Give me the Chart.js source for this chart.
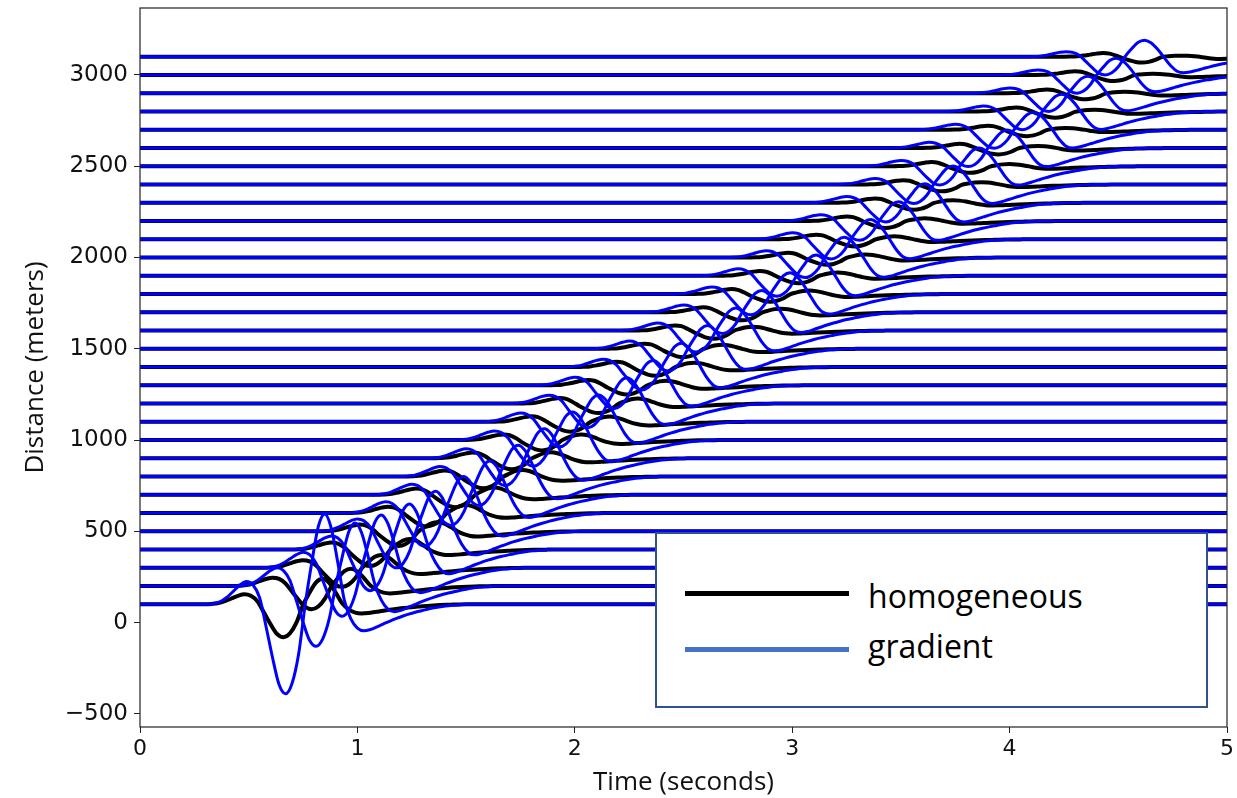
<!DOCTYPE html>
<html>
<head>
<meta charset="utf-8">
<script src="https://cdn.jsdelivr.net/npm/chart.js@4.4.1/dist/chart.umd.min.js"></script>
<style>
  html, body { margin: 0; padding: 0; background: #fff; }
  #wrap { position: relative; width: 1237px; height: 798px; }
  #legend {
    position: absolute; left: 655px; top: 532px; width: 549px; height: 172px;
    border: 2px solid #2f528f; background: #fff;
    font-family: "Open Sans", "DejaVu Sans", sans-serif; font-size: 32px; color: #000;
  }
  #legend .sw { position: absolute; left: 28px; width: 164px; height: 5px; }
  #legend .lb { position: absolute; left: 211px; line-height: 1; white-space: nowrap; }
</style>
</head>
<body>
<div id="wrap">
  <canvas id="c" width="1237" height="798"></canvas>
  <div id="legend">
    <div class="sw" style="top:57px;background:#000"></div>
    <div class="lb" style="top:46px">homogeneous</div>
    <div class="sw" style="top:113px;background:#4472c4"></div>
    <div class="lb" style="top:96px">gradient</div>
  </div>
</div>
<script>
/* Seismogram-style plot: one trace per receiver distance, homogeneous vs gradient model.
   For every trace the main-trough time and the size of each lobe (pre-bump, main trough,
   following peak, slow negative tail) are read off the reference, in metres of offset.
   Lobe shapes below are the 100 m trace's lobes, each normalised to 1. */

var OFFSETS = [100, 200, 300, 400, 500, 600, 700, 800, 900, 1000, 1100, 1200, 1300, 1400, 1500, 1600,
               1700, 1800, 1900, 2000, 2100, 2200, 2300, 2400, 2500, 2600, 2700, 2800, 2900, 3000, 3100];

// homogeneous (black)
var HOMO_T      = [0.66, 0.79, 0.93, 1.06, 1.19, 1.32, 1.45, 1.58, 1.71, 1.85, 1.98, 2.11, 2.24, 2.37, 2.50, 2.64,
                   2.77, 2.90, 3.03, 3.16, 3.29, 3.43, 3.56, 3.69, 3.82, 3.95, 4.08, 4.21, 4.35, 4.48, 4.61];
var HOMO_PRE    = [55, 46, 42, 39, 37, 35, 34, 33, 32, 31, 30, 30, 29, 29, 28, 28,
                   27, 27, 26, 26, 25, 25, 24, 24, 23, 23, 22, 22, 21, 21, 20];
var HOMO_TROUGH = [180, 127, 104, 90, 80, 73, 68, 64, 60, 57, 54, 52, 50, 48, 46, 45,
                   44, 42, 41, 40, 39, 38, 38, 37, 36, 35, 35, 34, 33, 33, 32];
var HOMO_POST   = [140, 95, 70, 58, 50, 44, 40, 36, 33, 31, 29, 27, 25, 24, 22, 21,
                   20, 19, 18, 17, 16, 15, 14, 13, 12, 11, 10, 9, 8, 7, 6];
var HOMO_TAIL   = [50, 40, 34, 30, 28, 26, 24, 23, 22, 21, 20, 19, 19, 18, 18, 17,
                   17, 16, 16, 16, 15, 15, 15, 14, 14, 14, 13, 13, 13, 12, 12];

// gradient (blue)
var GRAD_T      = [0.67, 0.81, 0.93, 1.06, 1.18, 1.31, 1.43, 1.56, 1.68, 1.81, 1.93, 2.06, 2.18, 2.31, 2.43, 2.56,
                   2.68, 2.81, 2.93, 3.06, 3.18, 3.31, 3.43, 3.56, 3.68, 3.81, 3.93, 4.06, 4.18, 4.31, 4.44];
var GRAD_PRE    = [125, 100, 85, 75, 68, 62, 58, 55, 52, 50, 48, 46, 44, 43, 42, 41,
                   40, 39, 38, 37, 36, 35, 34, 33, 32, 31, 30, 30, 29, 28, 28];
var GRAD_TROUGH = [490, 330, 265, 225, 200, 182, 168, 158, 150, 143, 137, 132, 128, 124, 121, 118,
                   116, 114, 112, 110, 108, 106, 105, 104, 103, 102, 101, 100, 100, 100, 100];
var GRAD_POST   = [495, 345, 290, 250, 220, 200, 185, 172, 162, 154, 147, 141, 136, 131, 127, 123,
                   120, 117, 114, 111, 108, 106, 104, 102, 100, 98, 96, 95, 93, 92, 91];
var GRAD_TAIL   = [145, 140, 136, 132, 129, 126, 124, 122, 120, 118, 117, 116, 115, 114, 113, 112,
                   111, 110, 109, 108, 107, 106, 105, 104, 103, 102, 100, 98, 96, 92, 88];

// lobe shapes on a common time grid (s, relative to the main trough)
var TAU       = [-0.36, -0.33, -0.30, -0.27, -0.24, -0.21, -0.18, -0.15, -0.12, -0.09, -0.06, -0.03, 0.00,
                 0.03, 0.06, 0.09, 0.12, 0.15, 0.18, 0.21, 0.24, 0.27, 0.30, 0.33, 0.36, 0.39, 0.42,
                 0.45, 0.48, 0.51, 0.54, 0.57, 0.60, 0.63, 0.66, 0.69, 0.72, 0.75, 0.78, 0.81, 0.84];
var LOBE_PRE  = [0, 0.04, 0.12, 0.31, 0.58, 0.85, 1.00, 0.85, 0.30, 0, 0, 0, 0,
                 0, 0, 0, 0, 0, 0, 0, 0, 0, 0, 0, 0, 0, 0,
                 0, 0, 0, 0, 0, 0, 0, 0, 0, 0, 0, 0, 0, 0];
var LOBE_MAIN = [0, 0, 0, 0, 0, 0, 0, 0, 0, -0.25, -0.60, -0.90, -1.00,
                 -0.88, -0.55, -0.08, 0, 0, 0, 0, 0, 0, 0, 0, 0, 0, 0,
                 0, 0, 0, 0, 0, 0, 0, 0, 0, 0, 0, 0, 0, 0];
var LOBE_POST = [0, 0, 0, 0, 0, 0, 0, 0, 0, 0, 0, 0, 0,
                 0, 0, 0.08, 0.46, 0.86, 1.00, 0.84, 0.46, 0.08, 0, 0, 0, 0, 0,
                 0, 0, 0, 0, 0, 0, 0, 0, 0, 0, 0, 0, 0, 0];
var LOBE_TAIL = [0, 0, 0, 0, 0, 0, 0, 0, 0, 0, 0, 0, 0,
                 0, 0, 0, 0, 0, 0, 0, 0, -0.12, -0.55, -0.90, -1.00, -0.95, -0.85,
                 -0.74, -0.63, -0.53, -0.44, -0.36, -0.29, -0.23, -0.17, -0.12, -0.08, -0.05, -0.03, -0.01, 0];

var X_TICKS = [0, 1, 2, 3, 4, 5];
var Y_TICKS = [-500, 0, 500, 1000, 1500, 2000, 2500, 3000];

var X_MIN = 0, X_MAX = 5, Y_MIN = -572, Y_MAX = 3367;
var Y_TICK_FONT = { family: "'DejaVu Sans', sans-serif", size: 23 };
var X_TICK_FONT = { family: "'DejaVu Sans', sans-serif", size: 22 };
var TITLE_FONT = { family: "'Open Sans', 'DejaVu Sans', sans-serif", size: 26 };

function tracePoints(base, t0, pre, trough, post, tail) {
  var pts = [{ x: X_MIN, y: base }];
  for (var i = 0; i < TAU.length; i++) {
    var x = t0 + TAU[i];
    if (x <= X_MIN) continue;
    var y = base + pre * LOBE_PRE[i] + trough * LOBE_MAIN[i] + post * LOBE_POST[i] + tail * LOBE_TAIL[i];
    pts.push({ x: x, y: y });
  }
  if (pts[pts.length - 1].x < X_MAX) pts.push({ x: X_MAX, y: base });
  return pts;
}

var datasets = [];
OFFSETS.forEach(function (off, i) {
  datasets.push({
    label: "homogeneous",
    data: tracePoints(off, HOMO_T[i], HOMO_PRE[i], HOMO_TROUGH[i], HOMO_POST[i], HOMO_TAIL[i]),
    borderColor: "#000000", borderWidth: 4, order: 2
  });
});
OFFSETS.forEach(function (off, i) {
  datasets.push({
    label: "gradient",
    data: tracePoints(off, GRAD_T[i], GRAD_PRE[i], GRAD_TROUGH[i], GRAD_POST[i], GRAD_TAIL[i]),
    borderColor: "#0000ff", borderWidth: 3, order: 1
  });
});

var frame = {
  id: "frame",
  afterDraw: function (chart) {
    var a = chart.chartArea, ctx = chart.ctx;
    ctx.save();
    ctx.strokeStyle = "#222";
    ctx.lineWidth = 1.2;
    ctx.strokeRect(a.left, a.top, a.right - a.left, a.bottom - a.top);
    ctx.restore();
  }
};

new Chart(document.getElementById("c"), {
  type: "line",
  data: { datasets: datasets },
  options: {
    responsive: false, animation: false, events: [],
    layout: { padding: { top: 8, right: 10, left: 0, bottom: 0 } },
    elements: {
      point: { radius: 0 },
      line: { cubicInterpolationMode: "monotone", fill: false, borderCapStyle: "round", borderJoinStyle: "round" }
    },
    plugins: { legend: { display: false }, tooltip: { enabled: false } },
    scales: {
      x: {
        type: "linear", min: X_MIN, max: X_MAX,
        afterFit: function (s) { s.height = 71; },
        afterBuildTicks: function (s) { s.ticks = X_TICKS.map(function (v) { return { value: v }; }); },
        grid: { display: true, drawOnChartArea: false, drawTicks: true, tickLength: 6, color: "#222" },
        border: { display: false },
        ticks: { color: "#111", font: X_TICK_FONT, padding: 3, maxRotation: 0 },
        title: { display: true, text: "Time (seconds)", color: "#111", font: TITLE_FONT, padding: { top: 0, bottom: 0 } }
      },
      y: {
        type: "linear", min: Y_MIN, max: Y_MAX,
        afterFit: function (s) { s.width = 140; s.paddingTop = 0; s.paddingBottom = 0; },
        afterBuildTicks: function (s) { s.ticks = Y_TICKS.map(function (v) { return { value: v }; }); },
        grid: { display: true, drawOnChartArea: false, drawTicks: true, tickLength: 6, color: "#222" },
        border: { display: false },
        ticks: {
          color: "#111", font: Y_TICK_FONT, padding: 6,
          callback: function (v) { return String(v).replace("-", "\u2212"); }
        },
        title: { display: true, text: "Distance (meters)", color: "#111", font: TITLE_FONT, padding: { top: 20, bottom: 0 } }
      }
    }
  },
  plugins: [frame]
});
</script>
</body>
</html>
